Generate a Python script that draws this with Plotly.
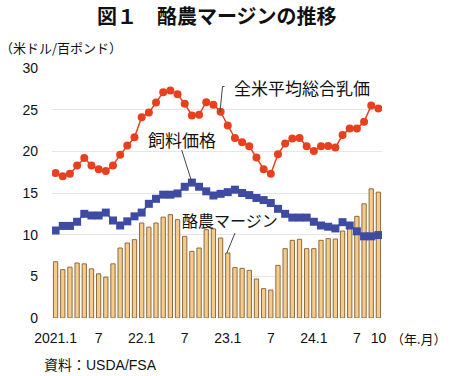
import plotly.graph_objects as go

months = [
    "2021.1", "2021.2", "2021.3", "2021.4", "2021.5", "2021.6", "2021.7", "2021.8", "2021.9", "2021.10", "2021.11", "2021.12",
    "2022.1", "2022.2", "2022.3", "2022.4", "2022.5", "2022.6", "2022.7", "2022.8", "2022.9", "2022.10", "2022.11", "2022.12",
    "2023.1", "2023.2", "2023.3", "2023.4", "2023.5", "2023.6", "2023.7", "2023.8", "2023.9", "2023.10", "2023.11", "2023.12",
    "2024.1", "2024.2", "2024.3", "2024.4", "2024.5", "2024.6", "2024.7", "2024.8", "2024.9", "2024.10",
]

milk_price = [
    17.4, 17.0, 17.3, 18.3, 19.2, 18.3, 17.85, 17.65, 18.3, 19.6, 20.7, 21.7,
    24.1, 24.65, 25.85, 27.1, 27.3, 26.85, 25.7, 24.3, 24.4, 25.9, 25.6, 24.75,
    23.1, 21.6, 21.1, 20.6, 19.25, 17.85, 17.3, 19.65, 20.95, 21.55, 21.6, 20.6,
    20.05, 20.6, 20.65, 20.45, 21.95, 22.75, 22.75, 23.55, 25.5, 25.15,
]

feed_cost = [
    10.5, 11.05, 11.05, 11.55, 12.5, 12.3, 12.3, 12.65, 11.7, 11.1, 11.6, 12.2,
    12.65, 13.7, 14.3, 14.8, 14.8, 14.95, 15.75, 16.25, 15.75, 15.2, 14.7, 14.9,
    15.1, 15.4, 15.0, 14.75, 14.4, 14.15, 13.8, 13.1, 12.5, 12.05, 12.05, 12.05,
    11.55, 11.1, 10.95, 10.75, 11.5, 11.1, 10.4, 9.8, 9.8, 9.95,
]

margin = [
    6.75, 5.8, 6.1, 6.6, 6.5, 5.9, 5.3, 4.9, 6.5, 8.4, 9.0, 9.4,
    11.4, 10.9, 11.4, 12.1, 12.4, 11.8, 9.8, 8.0, 8.4, 10.6, 10.7, 9.6,
    7.8, 6.04, 5.96, 5.72, 4.68, 3.52, 3.36, 6.32, 8.32, 9.32, 9.44, 8.32,
    8.32, 9.32, 9.52, 9.48, 10.44, 11.3, 12.2, 13.7, 15.5, 15.1,
]

tick_months = ["2021.1", "2021.7", "2022.1", "2022.7", "2023.1", "2023.7", "2024.1", "2024.7", "2024.10"]
tick_text = ["2021.1", "7", "22.1", "7", "23.1", "7", "24.1", "7", "10"]

FONT = "Liberation Sans, Arial, Noto Sans CJK JP, sans-serif"
JFONT = "Noto Sans CJK JP, sans-serif"

fig = go.Figure()
fig.add_trace(go.Bar(
    x=months, y=margin, name="酪農マージン",
    marker=dict(color="#F5CB8C", line=dict(color="#8C6B3E", width=1)),
))
fig.add_trace(go.Scatter(
    x=months, y=feed_cost, name="飼料価格", mode="lines+markers",
    line=dict(color="#3E4BA3", width=1.5),
    marker=dict(symbol="square", size=8, color="#3E4BA3"),
))
fig.add_trace(go.Scatter(
    x=months, y=milk_price, name="全米平均総合乳価", mode="lines+markers",
    line=dict(color="#E8401E", width=1.5),
    marker=dict(symbol="circle", size=8, color="#E8401E"),
))

annotations = [
    dict(text="<b>図１　酪農マージンの推移</b>", x=0.5, xref="paper", xanchor="center",
         y=15, showarrow=False, font=dict(size=20, family=JFONT, color="#111111")),
    dict(text="（米ドル/百ポンド）", x=-2, xanchor="left",
         y=48, showarrow=False, font=dict(size=13, family=JFONT, color="#111111")),
    dict(text="資料：USDA/FSA", x=42, xanchor="left", y=365, showarrow=False,
         font=dict(size=14, family=FONT, color="#111111")),
    dict(text="（年.月）", x=389, xanchor="left", y=338, showarrow=False,
         font=dict(size=13, family=JFONT, color="#111111")),
    dict(text="全米平均総合乳価", x=232, xanchor="left", y=88, showarrow=False,
         font=dict(size=17, family=JFONT, color="#111111")),
    dict(text="飼料価格", x=181.5, xanchor="center", y=139, showarrow=False,
         font=dict(size=17, family=JFONT, color="#111111")),
    dict(text="酪農マージン", x=180, xanchor="left", y=220, showarrow=False,
         font=dict(size=16, family=JFONT, color="#111111")),
]
W, H = 450, 376
ML, MR, MT, MB = 52, 68, 68, 58
pw, ph = W - ML - MR, H - MT - MB
final_ann = []
for a in annotations:
    a = dict(a)
    if a.get("xref") != "paper":
        a["x"] = (a["x"] - ML) / pw
        a["xref"] = "paper"
    a["y"] = 1 - (a["y"] - MT) / ph
    a["yref"] = "paper"
    a["yanchor"] = "middle"
    final_ann.append(a)

def px2paper(x, y):
    return (x - ML) / pw, 1 - (y - MT) / ph

leaders = [
    [(224.5, 86.5), (222.5, 86.5), (220, 112)],
    [(181.7, 150), (191.7, 181.7)],
    [(235, 233), (226.7, 253.3)],
]
shapes = []
for pts in leaders:
    for (x0, y0), (x1, y1) in zip(pts[:-1], pts[1:]):
        a0, b0 = px2paper(x0, y0)
        a1, b1 = px2paper(x1, y1)
        shapes.append(dict(type="line", xref="paper", yref="paper", x0=a0, y0=b0, x1=a1, y1=b1,
                           line=dict(color="#444444", width=1)))

fig.update_layout(
    width=W, height=H,
    margin=dict(l=ML, r=MR, t=MT, b=MB),
    paper_bgcolor="white", plot_bgcolor="white",
    showlegend=False, bargap=0.4,
    font=dict(family=FONT, size=14, color="#111111"),
    annotations=final_ann, shapes=shapes,
)
fig.update_xaxes(
    type="category", range=[-0.5, len(months) - 0.5],
    tickmode="array", tickvals=tick_months, ticktext=tick_text,
    showgrid=False, showline=False, zeroline=False, ticks="",
    tickfont=dict(size=14, family=FONT), ticklabelstandoff=10,
)
fig.update_yaxes(
    range=[0, 30], tickvals=[0, 5, 10, 15, 20, 25, 30],
    showgrid=True, gridcolor="#E6E6E6", gridwidth=1,
    showline=False, zeroline=False, ticks="",
    tickfont=dict(size=14, family=FONT), ticklabelstandoff=13,
)
fig.write_html(
    "out.html",
    config={"displayModeBar": False},
    post_script="document.body.style.margin='0';document.body.style.padding='0';document.body.style.overflow='hidden';",
)
